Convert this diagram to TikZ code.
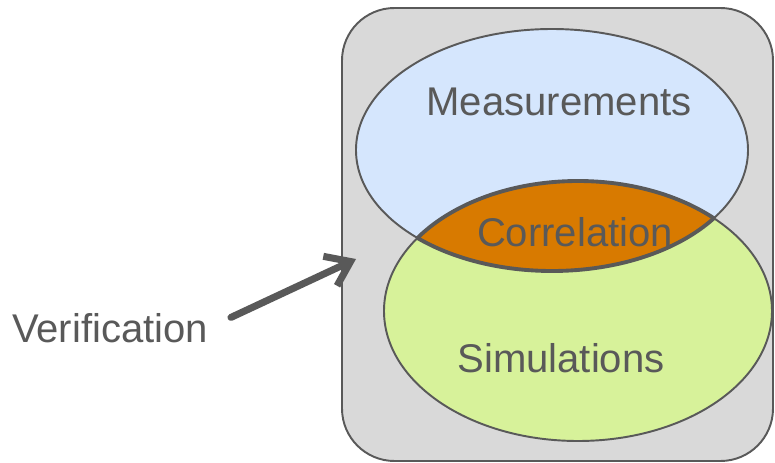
\documentclass[tikz,border=0pt]{standalone}
\usepackage{fontspec}
\setmainfont{Liberation Sans}
\usetikzlibrary{arrows.meta}

\definecolor{edgegray}{HTML}{595959}
\definecolor{boxgray}{HTML}{D9D9D9}
\definecolor{measblue}{HTML}{D5E6FD}
\definecolor{simgreen}{HTML}{D7F29A}
\definecolor{corrorange}{HTML}{D87A00}

\tikzset{
  setlabel/.style={text=edgegray, font=\fontsize{22.8}{27}\selectfont, inner sep=0pt},
  setline/.style={draw=edgegray, line width=1.1pt}
}

\begin{document}
\begin{tikzpicture}[x=0.02cm, y=-0.02cm]
			%%%%% FRAME %%%%%
			\useasboundingbox (0,0) rectangle (775,463);
			\draw[setline, fill=boxgray, rounded corners=1.05cm] (342,8) rectangle (773,461);
			
			%%%%% SETS %%%%%
			\draw[setline, fill=measblue] (552,150) ellipse [x radius=196, y radius=121];
			\draw[setline, fill=simgreen] (578,311) ellipse [x radius=194, y radius=130];
			
			% overlap
			\begin{scope}
				\clip (552,150) ellipse [x radius=196, y radius=121];
				\draw[setline, line width=2.2pt, fill=corrorange] (578,311) ellipse [x radius=194, y radius=130];
			\end{scope}
			\begin{scope}
				\clip (578,311) ellipse [x radius=194, y radius=130];
				\draw[setline, line width=2.2pt] (552,150) ellipse [x radius=196, y radius=121];
			\end{scope}
			
			%%%%% LABELS %%%%%
			\node[setlabel] (meas) at (559,102) {Measurements};
			\node[setlabel] (corr) at (575,232) {Correlation};
			\node[setlabel] (sim) at (561,358) {Simulations};
			\node[setlabel] (verif) at (110,328) {Verification};
			
			\coordinate (tip) at (356,259);
			\draw[edgegray, line width=4pt, line cap=round, shorten <=0.5cm,
				-{Straight Barb[length=0.45cm, width=0.65cm]}] (verif.east) -- (tip);
\end{tikzpicture}
\end{document}
